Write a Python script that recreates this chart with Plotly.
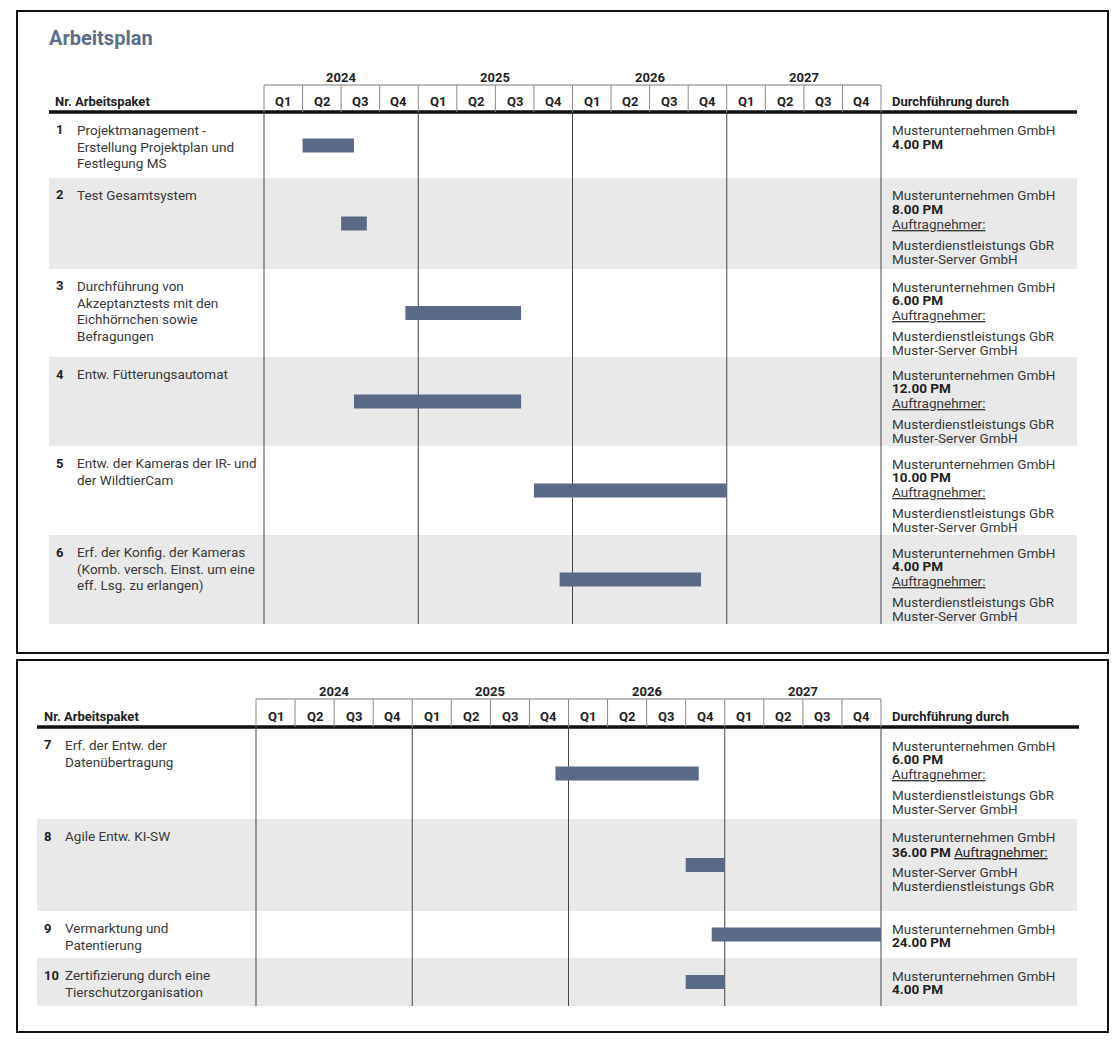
import plotly.graph_objects as go

W, H = 1119, 1045

# ---------------- data ----------------
years = ["2024", "2025", "2026", "2027"]
quarters = ["Q1", "Q2", "Q3", "Q4"]
nr = [1, 2, 3, 4, 5, 6, 7, 8, 9, 10]
tasks = [
    ["Projektmanagement -", "Erstellung Projektplan und", "Festlegung MS"],
    ["Test Gesamtsystem"],
    ["Durchführung von", "Akzeptanztests mit den", "Eichhörnchen sowie", "Befragungen"],
    ["Entw. Fütterungsautomat"],
    ["Entw. der Kameras der IR- und", "der WildtierCam"],
    ["Erf. der Konfig. der Kameras", "(Komb. versch. Einst. um eine", "eff. Lsg. zu erlangen)"],
    ["Erf. der Entw. der", "Datenübertragung"],
    ["Agile Entw. KI-SW"],
    ["Vermarktung und", "Patentierung"],
    ["Zertifizierung durch eine", "Tierschutzorganisation"],
]
# months counted from Jan 2024 (0 = start of Q1 2024)
start_month = [3, 6, 11, 7, 21, 23, 23, 33, 35, 33]
end_month = [7, 8, 20, 20, 36, 34, 34, 36, 48, 36]
executor = ["Musterunternehmen GmbH"] * 10
person_months = [4.0, 8.0, 6.0, 12.0, 10.0, 4.0, 6.0, 36.0, 24.0, 4.0]
A = "Musterdienstleistungs GbR"
B = "Muster-Server GmbH"
contractors = [[], [A, B], [A, B], [A, B], [A, B], [A, B], [A, B], [B, A], [], []]
label_inline = [False] * 7 + [True, False, False]
panel_of_row = [0] * 6 + [1] * 4

# ---------------- layout geometry (pixels) ----------------
panels = [
    dict(box=(17, 11, 1108, 653), grid=(264, 881), band=(49, 1077), rule=(49, 1077),
         nr_x=53, num_x=54, text_x=74.5, year_y=77, head_top=85, head_y=101, rule_y=112,
         row_tops=[113, 178, 269, 357, 446, 535], bottom=624),
    dict(box=(17, 660, 1108, 1032), grid=(256, 881), band=(37, 1077), rule=(37, 1079),
         nr_x=41.5, num_x=42, text_x=62.5, year_y=691, head_top=699, head_y=716, rule_y=727,
         row_tops=[728, 819, 911, 958], bottom=1006),
]
RIGHT_X = 890
BAR_COLOR = "#5a6a86"
BAND_COLOR = "#e9e9e9"
TXT = "#383838"
FONT = "Roboto"
BODY = 13.5
PAD = 0.5  # months of padding on axis range so edge lines are not clipped

fig = go.Figure()


def px_x(x):
    return x / W


def px_y(y):
    return 1 - y / H


def ann(x, y, text, size=13, color=TXT, anchor="left", xref="paper", yref="paper"):
    fig.add_annotation(
        x=px_x(x) if xref == "paper" else x,
        y=px_y(y) if yref == "paper" else y,
        xref=xref, yref=yref, text=text, showarrow=False,
        xanchor=anchor, yanchor="middle", align="left",
        font=dict(family=FONT, size=size, color=color),
    )


def rect_paper(x0, y0, x1, y1, **kw):
    fig.add_shape(type="rect", xref="paper", yref="paper",
                  x0=px_x(x0), x1=px_x(x1), y0=px_y(y0), y1=px_y(y1), **kw)


def line_paper(x0, y0, x1, y1, color, width):
    fig.add_shape(type="line", xref="paper", yref="paper", layer="below",
                  x0=px_x(x0), x1=px_x(x1), y0=px_y(y0), y1=px_y(y1),
                  line=dict(color=color, width=width))


# title
ann(47, 38, "<b>Arbeitsplan</b>", size=20, color="#5b6d8b")

axis_names = ["x", "x2"]
for p_i, p in enumerate(panels):
    bx0, by0, bx1, by1 = p["box"]
    rect_paper(bx0, by0, bx1, by1, layer="below", line=dict(color="#111111", width=2),
               fillcolor="rgba(0,0,0,0)")
    xa = axis_names[p_i]
    tops = p["row_tops"] + [p["bottom"]]
    rows = [i for i in range(10) if panel_of_row[i] == p_i]
    # alternating bands
    for k, r in enumerate(rows):
        if k % 2 == 1:
            rect_paper(p["band"][0], tops[k], p["band"][1], tops[k + 1], layer="below",
                       line=dict(width=0), fillcolor=BAND_COLOR)
    # header row top line
    fig.add_shape(type="line", xref=xa, yref="y", layer="below", x0=0, x1=48,
                  y0=p["head_top"], y1=p["head_top"], line=dict(color="#777777", width=1))
    # quarter dividers in header
    for m in range(0, 49, 3):
        fig.add_shape(type="line", xref=xa, yref="y", layer="below", x0=m, x1=m,
                      y0=p["head_top"], y1=p["rule_y"], line=dict(color="#8a8a8a", width=1))
    # year lines through the body
    for m in range(0, 49, 12):
        fig.add_shape(type="line", xref=xa, yref="y", layer="below", x0=m, x1=m,
                      y0=p["rule_y"], y1=p["bottom"], line=dict(color="#444444", width=1))
    # thick rule under header
    line_paper(p["rule"][0], p["rule_y"], p["rule"][1], p["rule_y"], "#111111", 3.5)

    # year and quarter labels
    for yi, yr in enumerate(years):
        ann(yi * 12 + 6, p["year_y"], "<b>%s</b>" % yr, size=13, color="#222222",
            anchor="center", xref=xa, yref="y")
        for qi, q in enumerate(quarters):
            ann(yi * 12 + qi * 3 + 1.5, p["head_y"], "<b>%s</b>" % q, size=13,
                color="#222222", anchor="center", xref=xa, yref="y")
    ann(p["nr_x"], p["head_y"], "<b>Nr. Arbeitspaket</b>", size=13, color="#222222")
    ann(RIGHT_X, p["head_y"], "<b>Durchführung durch</b>", size=13, color="#222222")

    # rows
    centers = []
    for k, r in enumerate(rows):
        top = tops[k]
        centers.append((tops[k] + tops[k + 1]) / 2)
        ann(p["num_x"], top + 17, "<b>%d</b>" % nr[r], size=13, color="#222222")
        for li, line in enumerate(tasks[r]):
            ann(p["text_x"], top + 17 + li * 16.5, line, size=BODY)
        ann(RIGHT_X, top + 17.5, executor[r], size=BODY)
        pm_txt = "<b>%.2f PM</b>" % person_months[r]
        if contractors[r]:
            if label_inline[r]:
                ann(RIGHT_X, top + 33, pm_txt + " <u>Auftragnehmer:</u>", size=BODY, color="#222222")
                c_y = top + 53
            else:
                ann(RIGHT_X, top + 31, pm_txt, size=BODY, color="#222222")
                ann(RIGHT_X, top + 45.5, "<u>Auftragnehmer:</u>", size=BODY)
                c_y = top + 67
            for ci, c in enumerate(contractors[r]):
                ann(RIGHT_X, c_y + ci * 13.5, c, size=BODY)
        else:
            ann(RIGHT_X, top + 31, pm_txt, size=BODY, color="#222222")

    fig.add_trace(go.Bar(
        orientation="h",
        y=centers,
        base=[start_month[r] for r in rows],
        x=[end_month[r] - start_month[r] for r in rows],
        width=14,
        marker=dict(color=BAR_COLOR, line=dict(width=0)),
        xaxis=xa, yaxis="y",
        hoverinfo="skip", showlegend=False,
    ))

mw0 = (panels[0]["grid"][1] - panels[0]["grid"][0]) / 48
mw1 = (panels[1]["grid"][1] - panels[1]["grid"][0]) / 48
ax_common = dict(visible=False, showgrid=False, zeroline=False, range=[-PAD, 48 + PAD],
                 fixedrange=True)
fig.update_layout(
    width=W, height=H,
    margin=dict(l=0, r=0, t=0, b=0),
    paper_bgcolor="white", plot_bgcolor="rgba(0,0,0,0)",
    showlegend=False,
    barmode="overlay",
    xaxis=dict(domain=[(panels[0]["grid"][0] - PAD * mw0) / W,
                       (panels[0]["grid"][1] + PAD * mw0) / W], anchor="y", **ax_common),
    xaxis2=dict(domain=[(panels[1]["grid"][0] - PAD * mw1) / W,
                        (panels[1]["grid"][1] + PAD * mw1) / W], anchor="y", **ax_common),
    yaxis=dict(domain=[0, 1], range=[H, 0], visible=False, showgrid=False,
               zeroline=False, fixedrange=True),
)

fig.write_html("out.html", config={"displayModeBar": False},
               post_script="document.body.style.margin='0';document.body.style.overflow='hidden';")
